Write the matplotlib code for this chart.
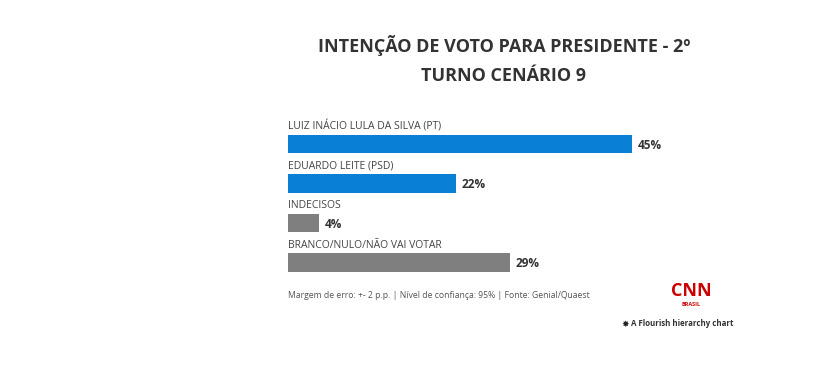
import matplotlib.pyplot as plt

categories = ['LUIZ INÁCIO LULA DA SILVA (PT)', 'EDUARDO LEITE (PSD)',
              'INDECISOS', 'BRANCO/NULO/NÃO VAI VOTAR']
values = [45, 22, 4, 29]
colors = ['#0a7fd6', '#0a7fd6', '#7f7f7f', '#7f7f7f']

plt.rcParams['font.family'] = ['Open Sans', 'DejaVu Sans']

W, H = 818, 376
fig = plt.figure(figsize=(W / 100, H / 100), dpi=100)
fig.patch.set_facecolor('white')

# axes placed in pixel terms: x 288..632 for 0..45, bars centered ~144..262
ax = fig.add_axes([288 / W, 1 - 282.25 / H, (632 - 288) / W, 158 / H])
ax.set_xlim(0, 45)
ax.set_ylim(3.5, -0.5)
ax.axis('off')

bh = 0.48
for i, (cat, v, c) in enumerate(zip(categories, values, colors)):
    ax.barh(i, v, height=bh, color=c)
    ax.text(0, i - bh / 2 - 0.06, cat, fontsize=7.5, color='#444444',
            va='bottom', ha='left')
    ax.text(v + 0.75, i + 0.03, f'{v}%', fontsize=8.5, fontweight='bold',
            color='#333333', va='center', ha='left')

fig.text(504 / W, 1 - 46 / H, 'INTENÇÃO DE VOTO PARA PRESIDENTE - 2º',
         fontsize=13, fontweight='bold', color='#333333', ha='center', va='center')
fig.text(504 / W, 1 - 76 / H, 'TURNO CENÁRIO 9',
         fontsize=13, fontweight='bold', color='#333333', ha='center', va='center')

fig.text(288 / W, 1 - 296 / H,
         'Margem de erro: +- 2 p.p. | Nível de confiança: 95% | Fonte: Genial/Quaest',
         fontsize=6.2, color='#555555', ha='left', va='center')

# CNN logo as text
fig.text(691 / W, 1 - 291 / H, 'CNN', fontsize=13, fontweight='bold',
         color='#cc0000', ha='center', va='center')
fig.text(691 / W, 1 - 304 / H, 'BRASIL', fontsize=4, fontweight='bold',
         color='#cc0000', ha='center', va='center')

fig.text(625 / W, 1 - 324 / H, '✸', fontsize=6.5, color='#222222',
         ha='center', va='center', family=['DejaVu Sans'])
fig.text(631 / W, 1 - 324 / H, 'A Flourish hierarchy chart', fontsize=5.7,
         fontweight='bold', color='#333333', ha='left', va='center')

fig.savefig('out.png', dpi=100)
